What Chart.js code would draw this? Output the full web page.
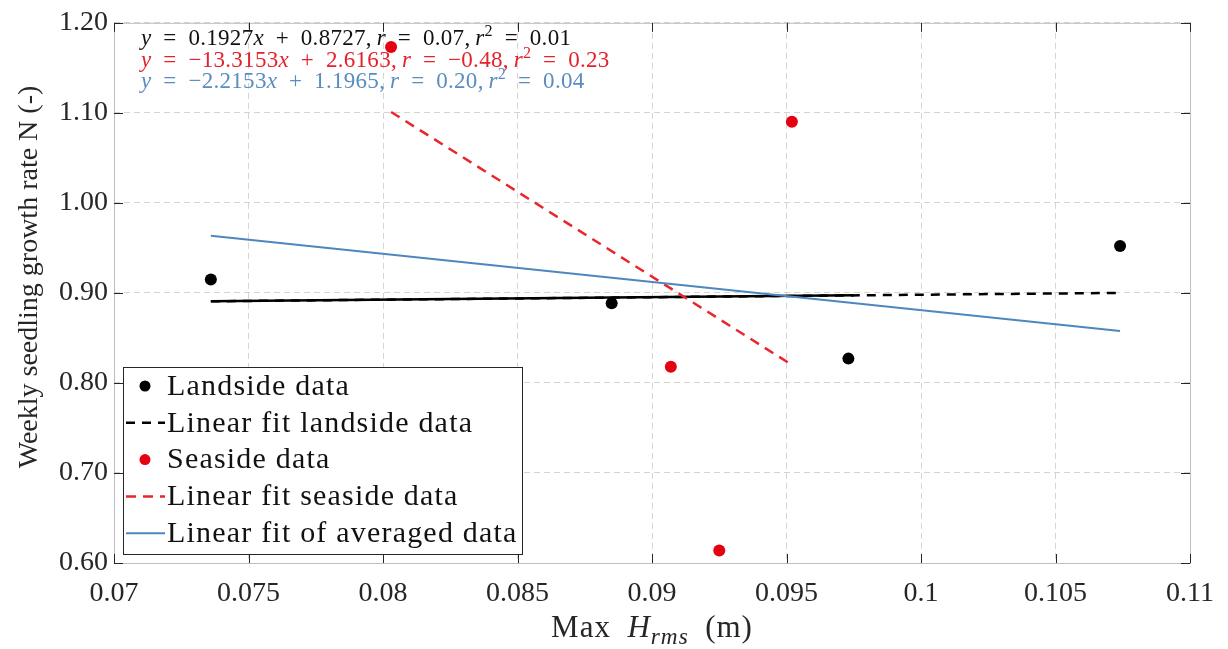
<!DOCTYPE html>
<html>
<head>
<meta charset="utf-8">
<script src="https://cdn.jsdelivr.net/npm/chart.js@4.4.1/dist/chart.umd.min.js"></script>
<style>
  html, body { margin: 0; padding: 0; background: #fff; }
  #wrap { width: 1228px; height: 649px; }
</style>
</head>
<body>
<div id="wrap"><canvas id="growthChart" width="1228" height="649"></canvas></div>
<script>
// Landside and seaside measurements (Max Hrms in m, weekly growth rate N)
const landX = [0.0736, 0.0885, 0.0973, 0.1074];
const landY = [0.915, 0.8885, 0.827, 0.952];
const seaX = [0.0803, 0.0952, 0.0907, 0.0925];
const seaY = [1.173, 1.090, 0.818, 0.614];

// Fit line end points
const landFitX = [0.0736, 0.1074];
const landFitY = [0.8907, 0.9000];
const landFitSolidX = [0.0736, 0.0975];
const landFitSolidY = [0.8907, 0.8973];
const seaFitX = [0.0803, 0.0952];
const seaFitY = [1.101, 0.820];
const avgFitX = [0.0736, 0.1074];
const avgFitY = [0.9634, 0.8577];

// Axis ticks
const xTicks = [0.07, 0.075, 0.08, 0.085, 0.09, 0.095, 0.1, 0.105, 0.11];
const yTicks = [0.6, 0.7, 0.8, 0.9, 1.0, 1.1, 1.2];

const BLACK = '#000000';
const RED = '#e60012';
const RED_LINE = '#e8262b';
const BLUE = '#4f86bf';
const TEXT = '#262626';
const SERIF = '"Liberation Serif", "DejaVu Serif", serif';
const SP = '\u2002'; // wide space around operators
const TH = '\u2009'; // thin space after commas

const toPoints = (xs, ys) => xs.map((x, i) => ({ x: x, y: ys[i] }));

// Regression equations, split into regular / italic / superscript runs
const equations = [
  { color: '#111111', parts: [['y', 'i'], [SP + '=' + SP + '0.1927'], ['x', 'i'], [SP + '+' + SP + '0.8727,' + TH], ['r', 'i'], [SP + '=' + SP + '0.07,' + TH], ['r', 'i'], ['2', 's'], [SP + '=' + SP + '0.01']] },
  { color: '#e3222b', parts: [['y', 'i'], [SP + '=' + SP + '\u221213.3153'], ['x', 'i'], [SP + '+' + SP + '2.6163,' + TH], ['r', 'i'], [SP + '=' + SP + '\u22120.48,' + TH], ['r', 'i'], ['2', 's'], [SP + '=' + SP + '0.23']] },
  { color: '#5a8cbf', parts: [['y', 'i'], [SP + '=' + SP + '\u22122.2153'], ['x', 'i'], [SP + '+' + SP + '1.1965,' + TH], ['r', 'i'], [SP + '=' + SP + '0.20,' + TH], ['r', 'i'], ['2', 's'], [SP + '=' + SP + '0.04']] }
];

function setRunFont(ctx, style, size) {
  if (style === 's') ctx.font = (size * 0.7) + 'px ' + SERIF;
  else if (style === 'sub') ctx.font = 'italic ' + (size * 0.75) + 'px ' + SERIF;
  else ctx.font = (style === 'i' ? 'italic ' : '') + size + 'px ' + SERIF;
}

function drawRuns(ctx, parts, x, y, size) {
  parts.forEach(p => {
    const style = p[1];
    setRunFont(ctx, style, size);
    let dy = 0;
    if (style === 's') dy = -size * 0.38;
    if (style === 'sub') dy = size * 0.22;
    ctx.fillText(p[0], x, y + dy);
    x += ctx.measureText(p[0]).width;
  });
  return x;
}

function runsWidth(ctx, parts, size) {
  let w = 0;
  parts.forEach(p => {
    setRunFont(ctx, p[1], size);
    w += ctx.measureText(p[0]).width;
  });
  return w;
}

// Box frame, inward ticks, equations, axis titles and legend
const decorations = {
  id: 'decorations',
  beforeDatasetsDraw(chart) {
    // equations sit under the markers
    const ctx = chart.ctx;
    ctx.save();
    ctx.textBaseline = 'alphabetic';
    ctx.textAlign = 'left';
    ctx.letterSpacing = '0.3px';
    equations.forEach((eq, i) => {
      ctx.fillStyle = eq.color;
      drawRuns(ctx, eq.parts, 141, 45 + i * 21.5, 23);
    });
    ctx.letterSpacing = '0px';
    ctx.restore();
  },
  afterDraw(chart) {
    const ctx = chart.ctx;
    const a = chart.chartArea;
    const xs = chart.scales.x;
    const ys = chart.scales.y;
    ctx.save();

    // frame
    ctx.strokeStyle = '#bdbdbd';
    ctx.lineWidth = 1;
    ctx.setLineDash([]);
    ctx.strokeRect(a.left + 0.5, a.top + 0.5, a.right - a.left, a.bottom - a.top);

    // ticks on all four sides
    ctx.strokeStyle = TEXT;
    ctx.beginPath();
    xTicks.forEach(v => {
      const px = Math.round(xs.getPixelForValue(v)) + 0.5;
      ctx.moveTo(px, a.bottom); ctx.lineTo(px, a.bottom - 9);
      ctx.moveTo(px, a.top); ctx.lineTo(px, a.top + 9);
    });
    yTicks.forEach(v => {
      const py = Math.round(ys.getPixelForValue(v)) + 0.5;
      ctx.moveTo(a.left, py); ctx.lineTo(a.left + 9, py);
      ctx.moveTo(a.right, py); ctx.lineTo(a.right - 9, py);
    });
    ctx.stroke();

    // x axis title
    ctx.letterSpacing = '1px';
    const xTitle = [['Max' + SP], ['H', 'i'], ['rms', 'sub'], [SP + '(m)']];
    const tw = runsWidth(ctx, xTitle, 31);
    ctx.fillStyle = TEXT;
    ctx.textBaseline = 'alphabetic';
    ctx.textAlign = 'left';
    drawRuns(ctx, xTitle, (a.left + a.right) / 2 - tw / 2, 637, 31);
    ctx.letterSpacing = '0px';

    // y axis title
    ctx.save();
    ctx.translate(30, 277);
    ctx.rotate(-Math.PI / 2);
    ctx.font = '28px ' + SERIF;
    ctx.textAlign = 'center';
    ctx.textBaseline = 'middle';
    ctx.fillStyle = TEXT;
    ctx.fillText('Weekly seedling growth rate N (-)', 0, 0);
    ctx.restore();

    // legend
    const lx = 123, ly = 367, lw = 399, lh = 187;
    ctx.fillStyle = '#ffffff';
    ctx.fillRect(lx, ly, lw, lh);
    ctx.strokeStyle = '#262626';
    ctx.lineWidth = 1;
    ctx.strokeRect(lx + 0.5, ly + 0.5, lw, lh);

    const items = chart.data.datasets.filter(d => !d.hideInLegend);
    items.forEach((d, i) => {
      const cy = 386 + i * 36.8;
      if (d.showLine) {
        ctx.strokeStyle = d.borderColor;
        ctx.lineWidth = d.borderWidth;
        ctx.setLineDash(d.borderDash || []);
        ctx.beginPath();
        ctx.moveTo(126, cy);
        ctx.lineTo(165, cy);
        ctx.stroke();
        ctx.setLineDash([]);
      } else {
        ctx.fillStyle = d.pointBackgroundColor;
        ctx.beginPath();
        ctx.arc(145, cy, 5.5, 0, Math.PI * 2);
        ctx.fill();
      }
      ctx.fillStyle = '#111111';
      ctx.font = '30px ' + SERIF;
      ctx.letterSpacing = '1.2px';
      ctx.textBaseline = 'middle';
      ctx.fillText(d.label, 167, cy + 1);
      ctx.letterSpacing = '0px';
    });
    ctx.restore();
  }
};

new Chart(document.getElementById('growthChart'), {
  type: 'scatter',
  data: {
    datasets: [
      {
        label: 'Landside data',
        data: toPoints(landX, landY),
        pointRadius: 6,
        pointBackgroundColor: BLACK,
        pointBorderWidth: 0,
        order: 1
      },
      {
        label: 'Linear fit landside data',
        data: toPoints(landFitX, landFitY),
        showLine: true,
        borderColor: BLACK,
        borderWidth: 2.5,
        borderDash: [9, 7],
        pointRadius: 0,
        order: 4
      },
      {
        label: 'Linear fit landside data (solid)',
        hideInLegend: true,
        data: toPoints(landFitSolidX, landFitSolidY),
        showLine: true,
        borderColor: BLACK,
        borderWidth: 2.5,
        pointRadius: 0,
        order: 4
      },
      {
        label: 'Seaside data',
        data: toPoints(seaX, seaY),
        pointRadius: 6,
        pointBackgroundColor: RED,
        pointBorderWidth: 0,
        order: 1
      },
      {
        label: 'Linear fit seaside data',
        data: toPoints(seaFitX, seaFitY),
        showLine: true,
        borderColor: RED_LINE,
        borderWidth: 2.5,
        borderDash: [10, 7],
        pointRadius: 0,
        order: 3
      },
      {
        label: 'Linear fit of averaged data',
        data: toPoints(avgFitX, avgFitY),
        showLine: true,
        borderColor: BLUE,
        borderWidth: 2,
        pointRadius: 0,
        order: 2
      }
    ]
  },
  options: {
    responsive: false,
    animation: false,
    layout: { padding: { left: 0, right: 32, top: 20, bottom: 0 } },
    plugins: {
      legend: { display: false },
      tooltip: { enabled: false }
    },
    scales: {
      x: {
        type: 'linear',
        min: 0.07,
        max: 0.11,
        afterBuildTicks: s => { s.ticks = xTicks.map(v => ({ value: v })); },
        afterFit: s => { s.height = 86; },
        grid: { color: '#d4d4d4', drawTicks: false },
        border: { display: false, dash: [6, 4] },
        ticks: {
          padding: 14,
          color: TEXT,
          font: { family: SERIF, size: 28 },
          callback: v => String(parseFloat(v.toFixed(3)))
        }
      },
      y: {
        min: 0.6,
        max: 1.2,
        afterBuildTicks: s => { s.ticks = yTicks.map(v => ({ value: v })); },
        afterFit: s => { s.width = 114; },
        grid: { color: '#d4d4d4', drawTicks: false },
        border: { display: false, dash: [6, 4] },
        ticks: {
          padding: 6,
          color: TEXT,
          font: { family: SERIF, size: 28 },
          callback: v => v.toFixed(2)
        }
      }
    }
  },
  plugins: [decorations]
});
</script>
</body>
</html>
